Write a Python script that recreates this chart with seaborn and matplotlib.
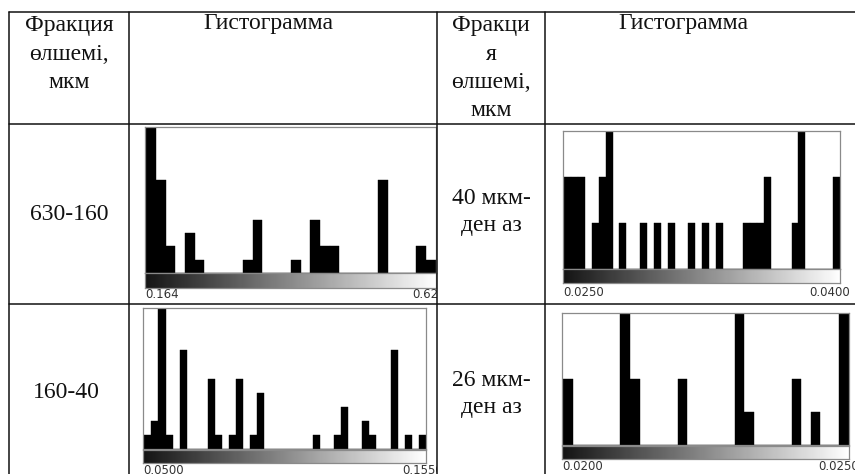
import numpy as np
import pandas as pd
import matplotlib
matplotlib.use("Agg")
import matplotlib.pyplot as plt
from matplotlib.lines import Line2D
import seaborn as sns

# ---------------- data ----------------
header_fraction = "Фракция\nөлшемі,\nмкм"
header_fraction2 = "Фракци\nя\nөлшемі,\nмкм"
header_hist = "Гистограмма"
row_labels_left = ["630-160", "160-40"]
row_labels_right = ["40 мкм-\nден аз", "26 мкм-\nден аз"]

# histogram A: 630-160 (30 bins)
h1_range = (0.164, 0.620)
h1_labels = ["0.164", "0.620"]
h1_counts = [11, 7, 2, 0, 3, 1, 0, 0, 0, 0, 1, 4, 0, 0, 0,
             1, 0, 4, 2, 2, 0, 0, 0, 0, 7, 0, 0, 0, 2, 1]

# histogram B: <40 mkm (40 bins)
h2_range = (0.0250, 0.0400)
h2_labels = ["0.0250", "0.0400"]
h2_counts = [2, 2, 2, 0, 1, 2, 3, 0, 1, 0, 0, 1, 0, 1, 0, 1, 0, 0, 1, 0,
             1, 0, 1, 0, 0, 0, 1, 1, 1, 2, 0, 0, 0, 1, 3, 0, 0, 0, 0, 2]

# histogram C: 160-40 (40 bins)
h3_range = (0.0500, 0.1550)
h3_labels = ["0.0500", "0.1550"]
h3_counts = [1, 2, 10, 1, 0, 7, 0, 0, 0, 5, 1, 0, 1, 5, 0, 1, 4, 0, 0, 0,
             0, 0, 0, 0, 1, 0, 0, 1, 3, 0, 0, 2, 1, 0, 0, 7, 0, 1, 0, 1]

# histogram D: <26 mkm (30 bins)
h4_range = (0.0200, 0.0250)
h4_labels = ["0.0200", "0.0250"]
h4_counts = [2, 0, 0, 0, 0, 0, 4, 2, 0, 0, 0, 0, 2, 0, 0,
             0, 0, 0, 4, 1, 0, 0, 0, 0, 2, 0, 1, 0, 0, 4]

# ---------------- layout ----------------
W, H = 855, 474
sns.set_theme(style="white")
plt.rcParams["font.family"] = ["Liberation Serif", "DejaVu Serif"]

fig = plt.figure(figsize=(W / 100, H / 100), dpi=100)
fig.patch.set_facecolor("white")


def rect(l, t, r, b):
    return [l / W, 1 - b / H, (r - l) / W, (b - t) / H]


def fx(x):
    return x / W


def fy(y):
    return 1 - y / H


def hline(y, x0, x1):
    fig.add_artist(Line2D([fx(x0), fx(x1)], [fy(y), fy(y)], transform=fig.transFigure,
                          color="#111111", lw=1.1))


def vline(x, y0, y1):
    fig.add_artist(Line2D([fx(x), fx(x)], [fy(y0), fy(y1)], transform=fig.transFigure,
                          color="#111111", lw=1.1))


# table grid
for y in (12, 124, 304):
    hline(y, 9, 855)
for x in (9, 129, 437, 545):
    vline(x, 12, 474)

TXT = "#111111"
FS = 17


def lines_text(x, ys, text):
    for yy, s in zip(ys, text.split("\n")):
        fig.text(fx(x), fy(yy), s, ha="center", va="center", fontsize=FS, color=TXT)


lines_text(69, [25, 54, 82], header_fraction)
lines_text(491, [25, 54, 82, 110], header_fraction2)
lines_text(268, [24], header_hist)
lines_text(683, [24], header_hist)
lines_text(69, [214], row_labels_left[0])
lines_text(66, [393], row_labels_left[1])
lines_text(491, [198, 226], row_labels_right[0])
lines_text(491, [380, 408], row_labels_right[1])


def draw_hist(counts, rng, labels, frame, cbar, label_y, cell, right_pad):
    lo, hi = rng
    n = len(counts)
    width = (hi - lo) / n
    centers = lo + width * (np.arange(n) + 0.5)
    df = pd.DataFrame({"value": centers, "count": counts})
    ax = fig.add_axes(rect(*frame))
    sns.histplot(data=df, x="value", weights="count", bins=n, binrange=(lo, hi), ax=ax,
                 color="black", alpha=1, edgecolor="black", linewidth=0.3)
    span = hi - lo
    ax.set_xlim(lo - 0.005 * span, hi + 0.001 * span)
    ax.set_ylim(0, max(counts))
    ax.set_xticks([])
    ax.set_yticks([])
    ax.set_xlabel("")
    ax.set_ylabel("")
    for s in ax.spines.values():
        s.set_color("#8a8a8a")
        s.set_linewidth(0.9)
    # gradient scale bar
    cax = fig.add_axes(rect(frame[0], cbar[0], frame[2], cbar[1]))
    grad = np.linspace(0.08, 1, 256)[None, :]
    cax.imshow(grad, aspect="auto", cmap="gray", vmin=0, vmax=1)
    cax.set_xticks([])
    cax.set_yticks([])
    for s in cax.spines.values():
        s.set_color("#8a8a8a")
        s.set_linewidth(0.9)
    # clip region for labels (the table cell)
    clip_ax = fig.add_axes(rect(*cell))
    clip_ax.set_axis_off()
    clip_ax.patch.set_visible(False)
    clip_ax.text(fx(frame[0]), fy(label_y), labels[0], transform=fig.transFigure,
                 ha="left", va="center", fontsize=8.5, color="#333333",
                 family="DejaVu Sans", clip_on=True)
    clip_ax.text(fx(frame[2] + right_pad), fy(label_y), labels[1], transform=fig.transFigure,
                 ha="right", va="center", fontsize=8.5, color="#333333",
                 family="DejaVu Sans", clip_on=True)
    return ax


draw_hist(h1_counts, h1_range, h1_labels, (145, 127, 436, 273), (273, 288), 295,
          (129.5, 124.5, 436.5, 303.5), 10)
draw_hist(h2_counts, h2_range, h2_labels, (563, 131, 840, 269), (269, 283), 292,
          (545.5, 124.5, 855, 303.5), 10)
draw_hist(h3_counts, h3_range, h3_labels, (143, 308, 426, 449), (450, 463), 470,
          (129.5, 304.5, 436.5, 474), 17)
draw_hist(h4_counts, h4_range, h4_labels, (562, 313, 849, 445), (446, 459), 467,
          (545.5, 304.5, 855, 474), 10)

fig.savefig("out.png", dpi=100, facecolor="white")
